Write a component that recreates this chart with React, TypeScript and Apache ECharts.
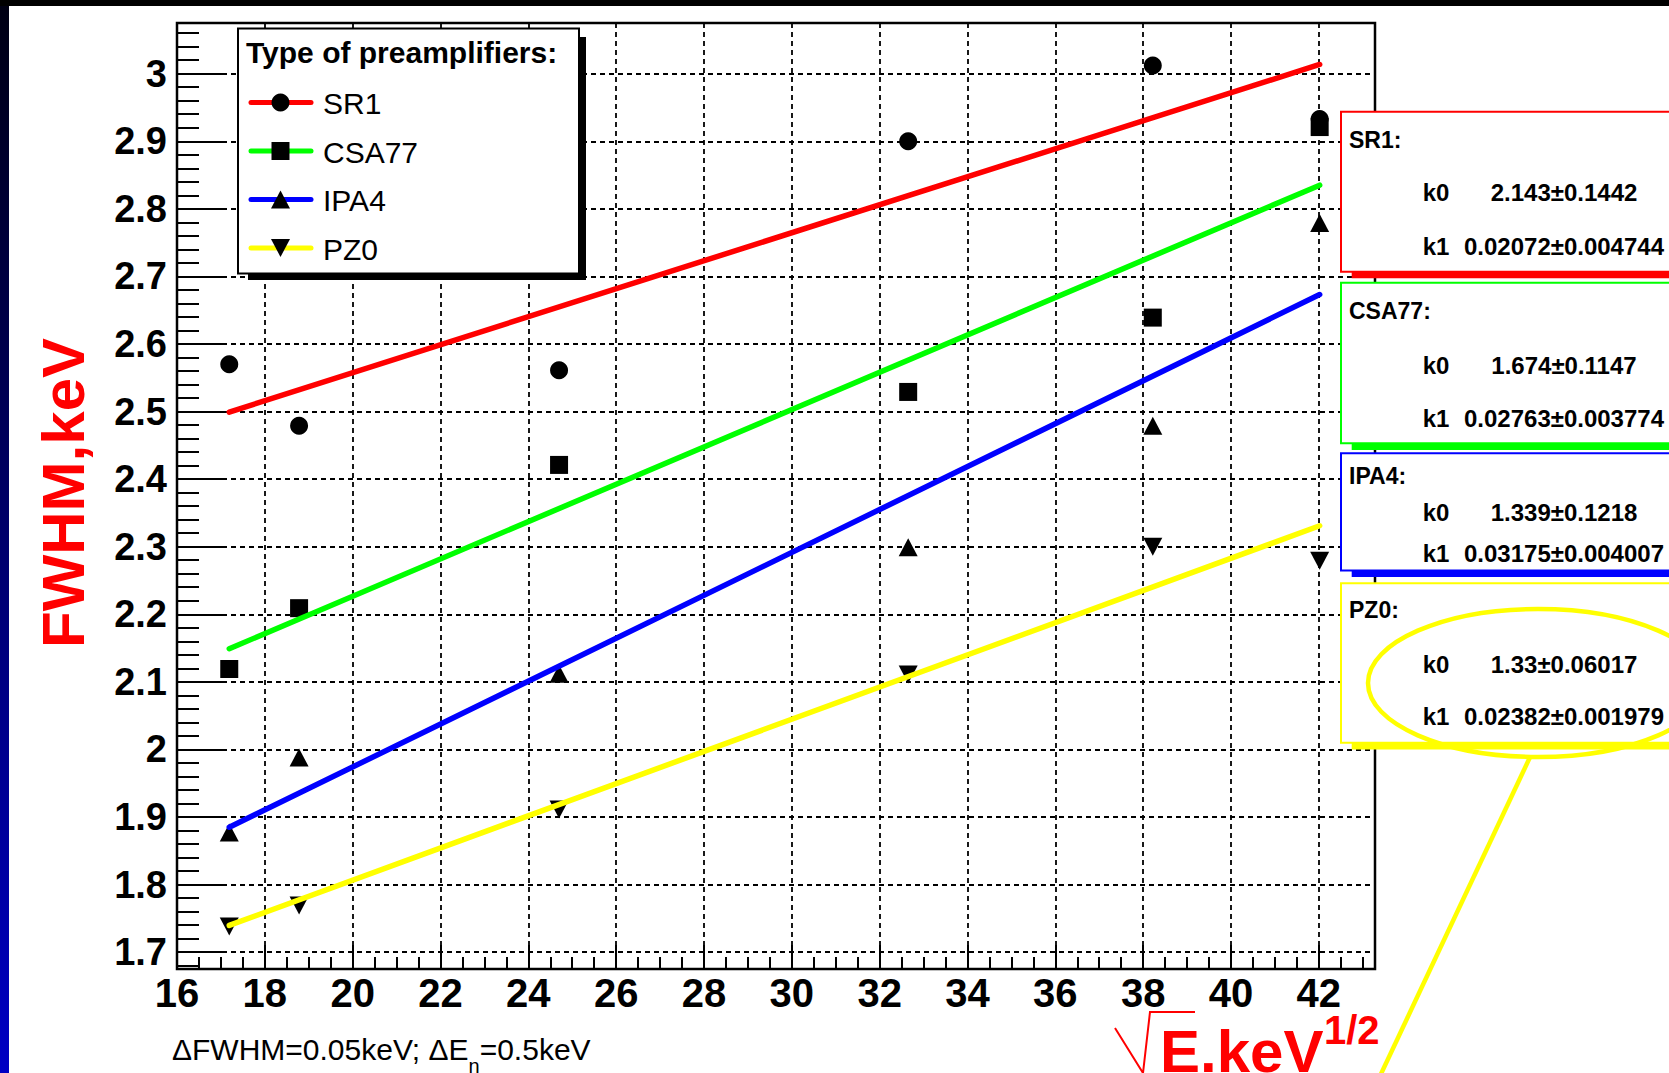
import { useEffect, useRef } from "react";
import * as echarts from "echarts";

// √E of the measured gamma lines, keV^1/2
const sqrtE = [17.19, 18.78, 24.7, 32.65, 38.22, 42.02];

// measured FWHM, keV, one array per preamplifier
const fwhmSR1 = [2.57, 2.479, 2.561, 2.9, 3.012, 2.933];
const fwhmCSA77 = [2.119, 2.209, 2.421, 2.529, 2.639, 2.921];
const fwhmIPA4 = [1.877, 1.988, 2.112, 2.299, 2.479, 2.779];
const fwhmPZ0 = [1.738, 1.769, 1.911, 2.111, 2.3, 2.279];

const preampNames = ["SR1", "CSA77", "IPA4", "PZ0"];

// linear fit FWHM = k0 + k1·√E
const fitK0 = [2.143, 1.674, 1.339, 1.33];
const fitK0Err = [0.1442, 0.1147, 0.1218, 0.06017];
const fitK1 = [0.02072, 0.02763, 0.03175, 0.02382];
const fitK1Err = [0.004744, 0.003774, 0.004007, 0.001979];

// axis ranges
const xRange = [16, 43.28];
const yRange = [1.675, 3.075];

const noteText = "{a|ΔFWHM=0.05keV; ΔE}{b|n}{a|=0.5keV}";

const FONT = "'Liberation Sans', Arial, Helvetica, sans-serif";
const lineColors = ["#ff0000", "#00ff00", "#0000ff", "#ffff00"];
const markerShapes = ["circle", "rect", "triangle", "triangle"];
const markerRotate = [0, 0, 0, 180];

const GRID = { left: 177, top: 23, width: 1198, height: 946 };

// stat box layout (vertical positions)
const statLayout = [
  { top: 111.7, bottom: 271.7, titleY: 140, k0Y: 192.7, k1Y: 246.7 },
  { top: 282.7, bottom: 443.3, titleY: 310.7, k0Y: 365, k1Y: 418.3 },
  { top: 453.3, bottom: 570.4, titleY: 475.5, k0Y: 512.7, k1Y: 553 },
  { top: 583.3, bottom: 742.8, titleY: 610.4, k0Y: 664, k1Y: 716.5 },
];
const legendRowY = [102.5, 151, 199.5, 248];

function txt(
  x: number,
  y: number,
  text: string,
  size: number,
  opts: { bold?: boolean; color?: string; align?: string; rotation?: number } = {}
) {
  return {
    type: "text",
    x,
    y,
    z: 120,
    rotation: opts.rotation || 0,
    style: {
      text,
      fontSize: size,
      fontFamily: FONT,
      fontWeight: opts.bold ? "bold" : "normal",
      fill: opts.color || "#000",
      align: opts.align || "left",
      verticalAlign: "middle",
    },
  };
}

function legendMarker(i: number, cx: number, cy: number) {
  const s = 9;
  if (i === 0) return { type: "circle", z: 121, shape: { cx, cy, r: s }, style: { fill: "#000" } };
  if (i === 1)
    return { type: "rect", z: 121, shape: { x: cx - s, y: cy - s, width: 2 * s, height: 2 * s }, style: { fill: "#000" } };
  if (i === 2)
    return {
      type: "polygon",
      z: 121,
      shape: { points: [[cx, cy - s], [cx + s + 0.5, cy + s], [cx - s - 0.5, cy + s]] },
      style: { fill: "#000" },
    };
  return {
    type: "polygon",
    z: 121,
    shape: { points: [[cx - s - 0.5, cy - s], [cx + s + 0.5, cy - s], [cx, cy + s]] },
    style: { fill: "#000" },
  };
}

export default function App() {
  const ref = useRef<HTMLDivElement>(null);

  useEffect(() => {
    if (!ref.current) return;
    const chart = echarts.init(ref.current, null, { renderer: "svg" });

    const measured = [fwhmSR1, fwhmCSA77, fwhmIPA4, fwhmPZ0];
    const scatterSeries = measured.map((vals, i) => ({
      name: preampNames[i],
      type: "scatter",
      xAxisIndex: 0,
      yAxisIndex: 0,
      data: sqrtE.map((x, j) => [x, vals[j]]),
      symbol: markerShapes[i],
      symbolSize: i >= 2 ? [19, 18] : 18,
      symbolRotate: markerRotate[i],
      itemStyle: { color: "#000", opacity: 1 },
      z: 2,
    }));

    const x0 = sqrtE[0];
    const x1 = sqrtE[sqrtE.length - 1];
    const fitSeries = fitK0.map((k0, i) => ({
      name: preampNames[i] + " fit",
      type: "line",
      xAxisIndex: 0,
      yAxisIndex: 0,
      data: [
        [x0, k0 + fitK1[i] * x0],
        [x1, k0 + fitK1[i] * x1],
      ],
      symbol: "none",
      showSymbol: false,
      lineStyle: { color: lineColors[i], width: 5.5, cap: "round" },
      z: 3,
    }));

    const graphic: any[] = [];

    // page frame
    graphic.push({
      type: "rect",
      z: 130,
      shape: { x: 0, y: 0, width: 9, height: 1073 },
      style: {
        fill: new echarts.graphic.LinearGradient(0, 0, 0, 1, [
          { offset: 0, color: "#000012" },
          { offset: 1, color: "#0000c4" },
        ]),
      },
    });
    graphic.push({ type: "rect", z: 131, shape: { x: 0, y: 0, width: 1669, height: 6 }, style: { fill: "#000" } });

    // legend
    graphic.push({ type: "rect", z: 110, shape: { x: 248, y: 37, width: 338, height: 243 }, style: { fill: "#000" } });
    graphic.push({
      type: "rect",
      z: 111,
      shape: { x: 238, y: 28.5, width: 341, height: 245 },
      style: { fill: "#fff", stroke: "#000", lineWidth: 2 },
    });
    graphic.push(txt(246, 52, "Type of preamplifiers:", 30, { bold: true }));
    preampNames.forEach((name, i) => {
      const cy = legendRowY[i];
      graphic.push({
        type: "line",
        z: 120,
        shape: { x1: 251, y1: cy, x2: 311, y2: cy },
        style: { stroke: lineColors[i], lineWidth: 5, lineCap: "round" },
      });
      graphic.push(legendMarker(i, 280.5, cy));
      graphic.push(txt(323, cy + 1, name, 30));
    });

    // fit result boxes
    preampNames.forEach((name, i) => {
      const b = statLayout[i];
      const h = b.bottom - b.top;
      graphic.push({
        type: "rect",
        z: 110,
        shape: { x: 1351.7, y: b.top + 6.6, width: 400, height: h },
        style: { fill: lineColors[i] },
      });
      graphic.push({
        type: "rect",
        z: 111,
        shape: { x: 1341, y: b.top, width: 400, height: h },
        style: { fill: "#fff", stroke: lineColors[i], lineWidth: 2 },
      });
      graphic.push(txt(1349, b.titleY, name + ":", 23, { bold: true }));
      graphic.push(txt(1422.7, b.k0Y, "k0", 24, { bold: true }));
      graphic.push(txt(1564, b.k0Y, `${fitK0[i]}±${fitK0Err[i]}`, 24, { bold: true, align: "center" }));
      graphic.push(txt(1422.7, b.k1Y, "k1", 24, { bold: true }));
      graphic.push(txt(1564, b.k1Y, `${fitK1[i]}±${fitK1Err[i]}`, 24, { bold: true, align: "center" }));
    });

    // highlight of the PZ0 parameters
    graphic.push({
      type: "ellipse",
      z: 125,
      shape: { cx: 1538, cy: 683, rx: 170, ry: 74 },
      style: { fill: "none", stroke: "#ffff00", lineWidth: 4.5 },
    });
    graphic.push({
      type: "line",
      z: 125,
      shape: { x1: 1529.6, y1: 758, x2: 1380.5, y2: 1075 },
      style: { stroke: "#ffff00", lineWidth: 4.5 },
    });

    // axis titles
    graphic.push(txt(63, 648, "FWHM,keV", 60, { bold: true, color: "#ff0000", rotation: Math.PI / 2 }));
    graphic.push({
      type: "polyline",
      z: 120,
      shape: { points: [[1115, 1028], [1143, 1073], [1150, 1012], [1195, 1012]] },
      style: { stroke: "#ff0000", lineWidth: 2, fill: "none" },
    });
    graphic.push(txt(1160, 1051, "E.keV", 60, { bold: true, color: "#ff0000" }));
    graphic.push(txt(1324, 1030, "1/2", 40, { bold: true, color: "#ff0000" }));

    // measurement uncertainties note
    graphic.push({
      type: "text",
      x: 172,
      y: 1034,
      z: 120,
      style: {
        text: noteText,
        verticalAlign: "top",
        align: "left",
        rich: {
          a: { fontSize: 30, fontFamily: FONT, fill: "#000", lineHeight: 36, verticalAlign: "top" },
          b: { fontSize: 20, fontFamily: FONT, fill: "#000", lineHeight: 20, verticalAlign: "top", padding: [22, 0, 0, 0] },
        },
      },
    });

    const dashed = { color: "#000", width: 1.8, type: [5, 4] };

    chart.setOption({
      animation: false,
      backgroundColor: "#fff",
      grid: { ...GRID, show: true, borderColor: "#000", borderWidth: 2.5, backgroundColor: "transparent" },
      xAxis: [
        {
          type: "value",
          min: xRange[0],
          max: xRange[1],
          interval: 2,
          axisLine: { show: false },
          axisTick: { inside: true, length: 24, lineStyle: { color: "#000", width: 2 } },
          axisLabel: {
            fontSize: 40,
            fontWeight: "bold",
            fontFamily: FONT,
            color: "#000",
            margin: 4,
            showMinLabel: true,
            showMaxLabel: false,
          },
          splitLine: { show: true, lineStyle: dashed },
        },
        {
          type: "value",
          min: xRange[0],
          max: xRange[1],
          interval: 0.5,
          position: "bottom",
          axisLine: { show: false },
          axisTick: { inside: true, length: 12, lineStyle: { color: "#000", width: 2 } },
          axisLabel: { show: false },
          splitLine: { show: false },
        },
      ],
      yAxis: [
        {
          type: "value",
          min: yRange[0],
          max: yRange[1],
          splitNumber: 14,
          minInterval: 0.1,
          maxInterval: 0.1,
          axisLine: { show: false },
          axisTick: { inside: true, length: 45, lineStyle: { color: "#000", width: 2 } },
          axisLabel: {
            fontSize: 38,
            fontWeight: "bold",
            fontFamily: FONT,
            color: "#000",
            margin: 10,
            showMinLabel: false,
            showMaxLabel: false,
          },
          splitLine: { show: true, lineStyle: dashed },
        },
        {
          type: "value",
          min: yRange[0],
          max: yRange[1],
          splitNumber: 70,
          minInterval: 0.02,
          maxInterval: 0.02,
          position: "left",
          axisLine: { show: false },
          axisTick: { inside: true, length: 22, lineStyle: { color: "#000", width: 2 } },
          axisLabel: { show: false },
          splitLine: { show: false },
        },
      ],
      series: [...scatterSeries, ...fitSeries],
      graphic,
    });

    return () => chart.dispose();
  }, []);

  return (
    <div
      ref={ref}
      style={{ position: "absolute", left: 0, top: 0, width: 1669, height: 1073, background: "#fff" }}
    />
  );
}
